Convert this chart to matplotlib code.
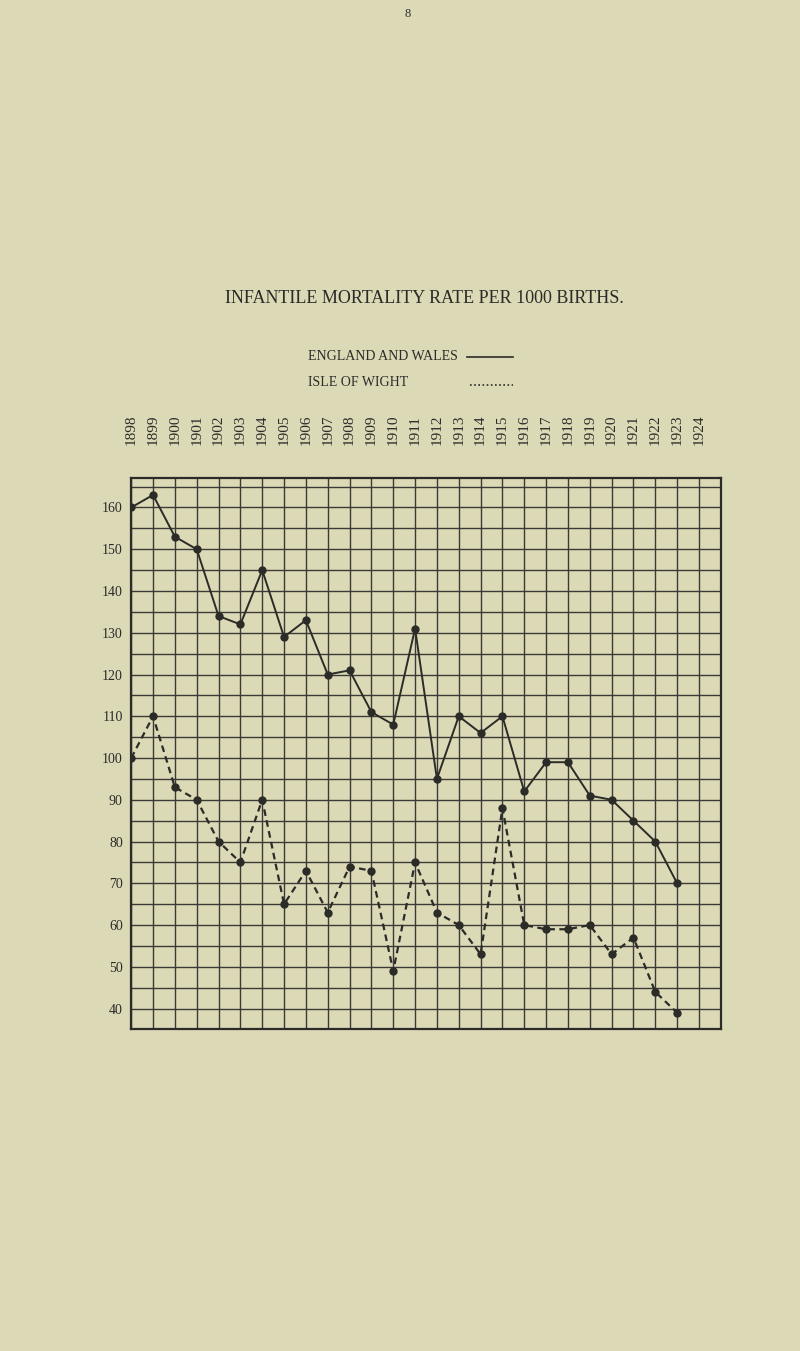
import matplotlib
matplotlib.use("Agg")
import matplotlib.pyplot as plt

years = list(range(1898, 1924))
england_wales = [160, 163, 153, 150, 134, 132, 145, 129, 133, 120, 121, 111, 108, 131,
                 95, 110, 106, 110, 92, 99, 99, 91, 90, 85, 80, 70]
isle_of_wight = [100, 110, 93, 90, 80, 75, 90, 65, 73, 63, 74, 73, 49, 75,
                 63, 60, 53, 88, 60, 59, 59, 60, 53, 57, 44, 39]
year_labels = [str(y) for y in range(1898, 1925)]
y_ticks = [40, 50, 60, 70, 80, 90, 100, 110, 120, 130, 140, 150, 160]

bg = "#dcd9b6"
ink = "#2b2b28"
serif = ["Liberation Serif", "DejaVu Serif"]

fig = plt.figure(figsize=(8, 13.51), dpi=100, facecolor=bg)
ax = fig.add_axes([0.164, 0.238, 0.737, 0.408], facecolor=bg)

ax.set_xlim(1898, 1925)
ax.set_ylim(35, 167)
for x in range(1898, 1926):
    ax.axvline(x, color="#3a3a36", lw=1.0, zorder=1)
for y in range(35, 167, 5):
    ax.axhline(y, color="#3a3a36", lw=1.0, zorder=1)

ax.plot(years, england_wales, color=ink, lw=1.4, marker="o", ms=5, zorder=3)
ax.plot(years, isle_of_wight, color=ink, lw=1.6, ls=(0, (3, 2)), marker="o", ms=5, zorder=3)

ax.set_xticks([])
ax.set_yticks(y_ticks)
ax.set_yticklabels([str(v) for v in y_ticks], family=serif, fontsize=10, color=ink)
ax.tick_params(axis="y", length=0, pad=6)
for s in ax.spines.values():
    s.set_color(ink)
    s.set_linewidth(1.6)

for i, lab in enumerate(year_labels):
    ax.text(1898 + i, 175, lab, rotation=90, ha="center", va="bottom",
            family=serif, fontsize=11, color=ink, transform=ax.transData, clip_on=False)

fig.text(0.51, 0.994, "8", ha="center", va="top", family=serif, fontsize=9, color=ink)
fig.text(0.53, 0.779, "INFANTILE MORTALITY RATE PER 1000 BIRTHS.", ha="center", va="center",
         family=serif, fontsize=13, color=ink)
fig.text(0.385, 0.736, "ENGLAND AND WALES", ha="left", va="center", family=serif, fontsize=10, color=ink)
fig.text(0.385, 0.717, "ISLE OF WIGHT", ha="left", va="center", family=serif, fontsize=10, color=ink)
fig.lines.append(plt.Line2D([0.584, 0.641], [0.736, 0.736], color=ink, lw=1.2, transform=fig.transFigure))
fig.lines.append(plt.Line2D([0.588, 0.641], [0.715, 0.715], color=ink, lw=1.2, ls=(0, (1, 1.5)),
                            transform=fig.transFigure))

fig.savefig("out.png", dpi=100, facecolor=bg)
